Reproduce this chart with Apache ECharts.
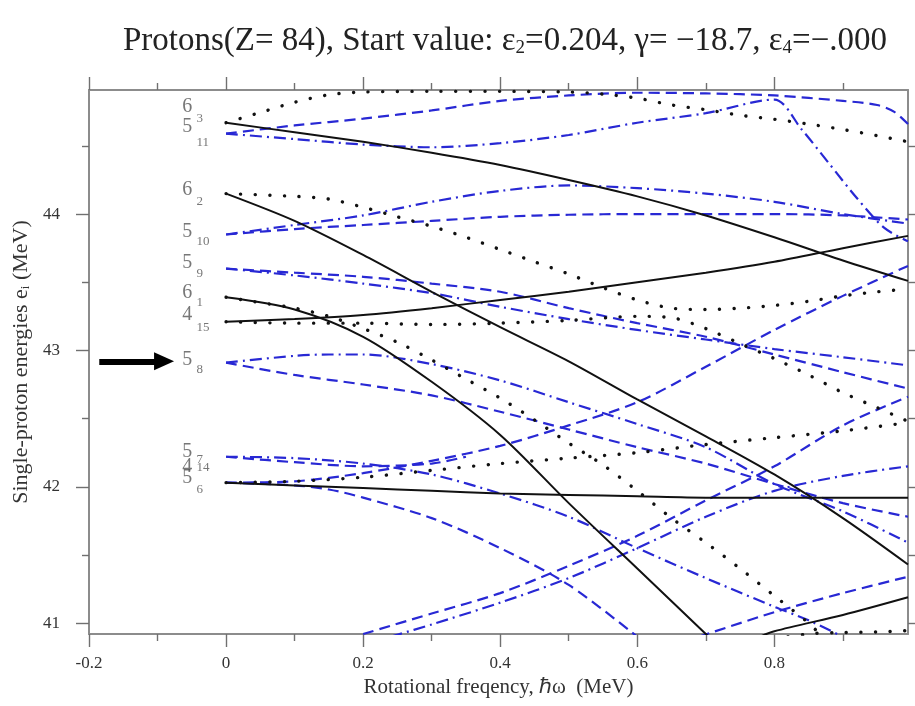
<!DOCTYPE html>
<html><head><meta charset="utf-8">
<script src="https://cdn.jsdelivr.net/npm/echarts@6/dist/echarts.min.js"></script>
<style>html,body{margin:0;padding:0;background:#fff}#c{width:915px;height:706px}</style>
</head><body><div id="c"></div>
<script>
// ---- axis ticks ----
const xTicks = [-0.2, 0, 0.2, 0.4, 0.6, 0.8];
const xMinorTicks = [-0.1, 0.1, 0.3, 0.5, 0.7, 0.9];
const yTicks = [41, 42, 43, 44];
const yMinorTicks = [41.5, 42.5, 43.5, 44.5];

// ---- level labels at omega = 0 ----
const labelMain = ['6','5','6','5','5','6','4','5','5','4','5'];
const labelSub  = ['3','11','2','10','9','1','15','8','7','14','6'];
const labelMainE = [44.785,44.638,44.176,43.868,43.64,43.42,43.259,42.929,42.254,42.15,42.063];
const labelSubE  = [44.704,44.528,44.088,43.80,43.567,43.354,43.17,42.863,42.20,42.14,41.98];
const arrowE = 42.92;

// ---- routhians [omega (MeV), e (MeV)] ----
// positive parity, signature a (solid)
const solid_6_3  = [[0,44.67],[0.1,44.60],[0.2,44.53],[0.3,44.45],[0.4,44.36],[0.5,44.25],[0.6,44.13],[0.7,43.99],[0.8,43.83],[0.9,43.66],[0.995,43.51]];
const solid_6_2  = [[0,44.15],[0.1,43.95],[0.2,43.70],[0.3,43.43],[0.4,43.17],[0.5,42.92],[0.6,42.64],[0.7,42.37],[0.8,42.09],[0.9,41.77],[0.995,41.43]];
const solid_6_1  = [[0,43.39],[0.1,43.30],[0.2,43.10],[0.3,42.77],[0.4,42.38],[0.5,41.88],[0.6,41.40],[0.7,40.92],[0.72,40.82]];
const solid_4_15 = [[0,43.21],[0.1,43.23],[0.2,43.26],[0.3,43.31],[0.4,43.37],[0.5,43.43],[0.6,43.50],[0.7,43.57],[0.8,43.65],[0.9,43.75],[0.995,43.84]];
const solid_4_14 = [[0,42.03],[0.1,42.01],[0.2,41.99],[0.3,41.97],[0.4,41.95],[0.5,41.94],[0.6,41.93],[0.7,41.92],[0.8,41.92],[0.9,41.92],[0.995,41.92]];
const solid_low  = [[0.77,40.88],[0.8,40.94],[0.9,41.06],[0.995,41.19]];
// positive parity, signature b (dotted)
const dotted_6_3  = [[0,44.67],[0.05,44.745],[0.1,44.82],[0.15,44.875],[0.2,44.895],[0.3,44.90],[0.4,44.90],[0.5,44.895],[0.55,44.88],[0.6,44.85],[0.65,44.80],[0.7,44.765],[0.75,44.725],[0.8,44.695],[0.85,44.66],[0.9,44.62],[0.95,44.575],[0.995,44.53]];
const dotted_6_2  = [[0,44.15],[0.1,44.13],[0.15,44.11],[0.2,44.05],[0.25,43.98],[0.3,43.91],[0.35,43.83],[0.4,43.74],[0.45,43.65],[0.5,43.56],[0.55,43.46],[0.6,43.37],[0.65,43.31],[0.7,43.30],[0.75,43.31],[0.8,43.33],[0.85,43.36],[0.9,43.40],[0.95,43.43],[0.995,43.45]];
const dotted_6_1  = [[0,43.39],[0.05,43.35],[0.1,43.31],[0.15,43.25],[0.2,43.16],[0.25,43.06],[0.3,42.93],[0.35,42.79],[0.4,42.65],[0.45,42.49],[0.5,42.32],[0.55,42.16],[0.6,41.97],[0.65,41.77],[0.7,41.59],[0.75,41.40],[0.8,41.20],[0.85,41.0],[0.87,40.90]];
const dotted_4_15 = [[0,43.21],[0.1,43.20],[0.2,43.20],[0.3,43.19],[0.4,43.20],[0.5,43.22],[0.6,43.25],[0.65,43.24],[0.7,43.16],[0.75,43.05],[0.8,42.94],[0.85,42.82],[0.9,42.69],[0.95,42.58],[0.995,42.48]];
const dotted_4_14 = [[0,42.03],[0.1,42.04],[0.2,42.07],[0.3,42.12],[0.4,42.17],[0.5,42.21],[0.6,42.25],[0.7,42.31],[0.8,42.36],[0.9,42.41],[0.995,42.47]];
const dotted_low  = [[0.82,40.90],[0.86,40.925],[0.9,40.93],[0.95,40.935],[0.995,40.945]];
// negative parity, signature a (dashed)
const dashed_5_11   = [[0,44.59],[0.1,44.65],[0.2,44.70],[0.3,44.76],[0.4,44.83],[0.5,44.87],[0.6,44.89],[0.7,44.885],[0.8,44.87],[0.9,44.83],[0.95,44.80],[0.975,44.75],[0.995,44.66]];
const dashed_5_10   = [[0,43.85],[0.1,43.89],[0.2,43.92],[0.3,43.95],[0.4,43.98],[0.5,43.995],[0.6,44.0],[0.7,44.0],[0.8,44.0],[0.9,43.99],[0.995,43.96]];
const dashed_5_9    = [[0,43.60],[0.1,43.57],[0.2,43.54],[0.3,43.49],[0.4,43.43],[0.5,43.31],[0.6,43.20],[0.7,43.10],[0.8,42.97],[0.9,42.84],[0.995,42.72]];
const dashed_5_8    = [[0,42.91],[0.1,42.82],[0.2,42.75],[0.3,42.67],[0.4,42.55],[0.5,42.42],[0.6,42.29],[0.7,42.17],[0.8,42.02],[0.9,41.88],[0.995,41.78]];
const dashed_5_7    = [[0,42.22],[0.1,42.18],[0.2,42.15],[0.3,42.17],[0.35,42.22]];
const dashed_5_6_up = [[0,42.03],[0.1,42.04],[0.2,42.10],[0.3,42.19],[0.4,42.30],[0.5,42.45],[0.6,42.62],[0.7,42.88],[0.8,43.15],[0.9,43.40],[0.995,43.62]];
const dashed_5_6_dn = [[0,42.03],[0.1,42.01],[0.15,41.98],[0.2,41.92],[0.3,41.77],[0.4,41.55],[0.5,41.28],[0.6,40.90]];
const dashed_rise_a = [[0.2,40.92],[0.3,41.07],[0.4,41.22],[0.5,41.42],[0.6,41.64],[0.7,41.90],[0.8,42.15],[0.9,42.45],[0.995,42.66]];
const dashed_rise_c = [[0.69,40.90],[0.8,41.08],[0.9,41.22],[0.995,41.34]];
// negative parity, signature b (dash-dot)
const dashdot_5_11  = [[0,44.59],[0.1,44.55],[0.2,44.51],[0.3,44.49],[0.4,44.52],[0.5,44.58],[0.6,44.67],[0.7,44.74],[0.8,44.84],[0.84,44.62],[0.88,44.37],[0.92,44.12],[0.96,43.90],[0.995,43.80]];
const dashdot_5_10  = [[0,43.85],[0.1,43.92],[0.2,43.99],[0.3,44.09],[0.4,44.17],[0.5,44.21],[0.6,44.19],[0.7,44.15],[0.8,44.09],[0.9,44.0],[0.995,43.93]];
const dashdot_5_9   = [[0,43.60],[0.1,43.55],[0.2,43.49],[0.3,43.42],[0.4,43.32],[0.5,43.23],[0.6,43.15],[0.7,43.08],[0.8,43.01],[0.9,42.95],[0.995,42.89]];
const dashdot_5_8   = [[0,42.91],[0.1,42.96],[0.15,42.97],[0.2,42.97],[0.3,42.90],[0.4,42.78],[0.5,42.62],[0.6,42.46],[0.7,42.29],[0.8,42.02],[0.9,41.82],[0.995,41.59]];
const dashdot_5_7   = [[0,42.22],[0.1,42.21],[0.2,42.17],[0.3,42.09],[0.4,41.95],[0.5,41.78],[0.6,41.55],[0.7,41.33],[0.8,41.12],[0.85,41.02],[0.9,40.90]];
const dashdot_rise_b = [[0.24,40.90],[0.3,40.99],[0.4,41.15],[0.5,41.33],[0.6,41.55],[0.7,41.78],[0.8,41.97],[0.9,42.08],[0.995,42.15]];

const curves = [
  [dashed_5_11,'dashed'],[dashed_5_10,'dashed'],[dashed_5_9,'dashed'],[dashed_5_8,'dashed'],[dashed_5_7,'dashed'],
  [dashed_5_6_up,'dashed'],[dashed_5_6_dn,'dashed'],[dashed_rise_a,'dashed'],[dashed_rise_c,'dashed'],
  [dashdot_5_11,'dashdot'],[dashdot_5_10,'dashdot'],[dashdot_5_9,'dashdot'],[dashdot_5_8,'dashdot'],[dashdot_5_7,'dashdot'],[dashdot_rise_b,'dashdot'],
  [dotted_6_3,'dotted'],[dotted_6_2,'dotted'],[dotted_6_1,'dotted'],[dotted_4_15,'dotted'],[dotted_4_14,'dotted'],[dotted_low,'dotted'],
  [solid_6_3,'solid'],[solid_6_2,'solid'],[solid_6_1,'solid'],[solid_4_15,'solid'],[solid_4_14,'solid'],[solid_low,'solid']
];

const BLUE = '#2828d4';
const styles = {
  solid:   {color:'#111', width:2, type:'solid'},
  dotted:  {color:'#111', width:3.4, type:[0.1,14.5], cap:'round'},
  dashed:  {color:BLUE, width:2.2, type:[11,6]},
  dashdot: {color:BLUE, width:2.2, type:[12,5,2,5]}
};
const serif = 'Liberation Serif';
const X_MIN = -0.2, X_MAX = 0.995, Y_MIN = 40.92, Y_MAX = 44.91;
const LABEL_X = -0.064, SUB_X = -0.043;

const frame = {color:'#8c8c8c', width:2};
const tick = {color:'#707070', width:1.4};

function xAxis(pos, ticks, len, withLine, withLabels) {
  return {type:'value', position:pos, min:X_MIN, max:X_MAX, gridIndex:0,
    axisLine:{show:withLine, onZero:false, lineStyle:frame},
    axisTick:{show:true, inside:false, length:len, customValues:ticks, lineStyle:tick},
    axisLabel:{show:withLabels, customValues:ticks, margin:21, fontFamily:serif, fontSize:17, color:'#333',
      formatter: v => (Math.abs(v) < 1e-9 ? '0' : String(+v.toFixed(1)))},
    splitLine:{show:false}};
}
function yAxis(pos, ticks, len, withLine, withLabels) {
  return {type:'value', position:pos, min:Y_MIN, max:Y_MAX, gridIndex:0,
    axisLine:{show:withLine, onZero:false, lineStyle:frame},
    axisTick:{show:true, inside:false, length:len, customValues:ticks, lineStyle:tick},
    axisLabel:{show:withLabels, customValues:ticks, margin:29, fontFamily:serif, fontSize:17, color:'#333',
      formatter: v => String(Math.round(v))},
    splitLine:{show:false}};
}

const xAxes = [
  Object.assign(xAxis('bottom', xTicks, 13, true, true), {
    name:'Rotational freqency, \u210F\u03C9  (MeV)', nameLocation:'middle', nameGap:43,
    nameTextStyle:{fontFamily:serif, fontSize:21, color:'#333'}}),
  xAxis('bottom', xMinorTicks, 7, false, false),
  xAxis('top', xTicks, 13, true, false),
  xAxis('top', xMinorTicks, 7, false, false)
];
const yAxes = [
  Object.assign(yAxis('left', yTicks, 13, true, true), {
    name:'Single-proton energies e{s|i} (MeV)', nameLocation:'middle', nameGap:57,
    nameTextStyle:{fontFamily:serif, fontSize:22, color:'#333', rich:{s:{fontFamily:serif, fontSize:13, color:'#333', verticalAlign:'bottom', lineHeight:13}}}}),
  yAxis('left', yMinorTicks, 7, false, false),
  yAxis('right', yTicks, 13, true, false),
  yAxis('right', yMinorTicks, 7, false, false)
];

const series = curves.map(([d, k]) => ({
  type:'line', data:d, xAxisIndex:0, yAxisIndex:0, showSymbol:false, symbol:'none',
  smooth:0.3, silent:true, clip:true, lineStyle:styles[k], z:(k === 'solid' ? 4 : 3)
}));

series.push({
  type:'scatter', xAxisIndex:0, yAxisIndex:0, symbolSize:0, silent:true, clip:false,
  data: labelMainE.map(e => [LABEL_X, e]),
  label:{show:true, position:'right', distance:0, fontFamily:serif, fontSize:20, color:'#555',
    formatter: p => labelMain[p.dataIndex]},
  markLine:{silent:true, symbol:['none','triangle'], symbolSize:[18,20], label:{show:false},
    lineStyle:{color:'#000', width:6, type:'solid'},
    data:[[{coord:[-0.185, arrowE]}, {coord:[-0.0905, arrowE]}]]}
});
series.push({
  type:'scatter', xAxisIndex:0, yAxisIndex:0, symbolSize:0, silent:true, clip:false,
  data: labelSubE.map(e => [SUB_X, e]),
  label:{show:true, position:'right', distance:0, fontFamily:serif, fontSize:13, color:'#555',
    formatter: p => labelSub[p.dataIndex]}
});

const chart = echarts.init(document.getElementById('c'), null, {renderer:'canvas'});
chart.setOption({
  backgroundColor:'#fff',
  animation:false,
  title:{text:'Protons(Z= 84), Start value: \u03B5{s|2}=0.204, \u03B3= \u221218.7, \u03B5{s|4}=\u2212.000',
    left:500, top:20, textAlign:'center',
    textStyle:{fontFamily:serif, fontSize:33, fontWeight:'normal', color:'#222',
      rich:{s:{fontFamily:serif, fontSize:19, color:'#222', verticalAlign:'bottom', lineHeight:14}}}},
  grid:{left:89, right:7, top:90, bottom:72, containLabel:false},
  xAxis:xAxes,
  yAxis:yAxes,
  series:series
});
</script></body></html>
